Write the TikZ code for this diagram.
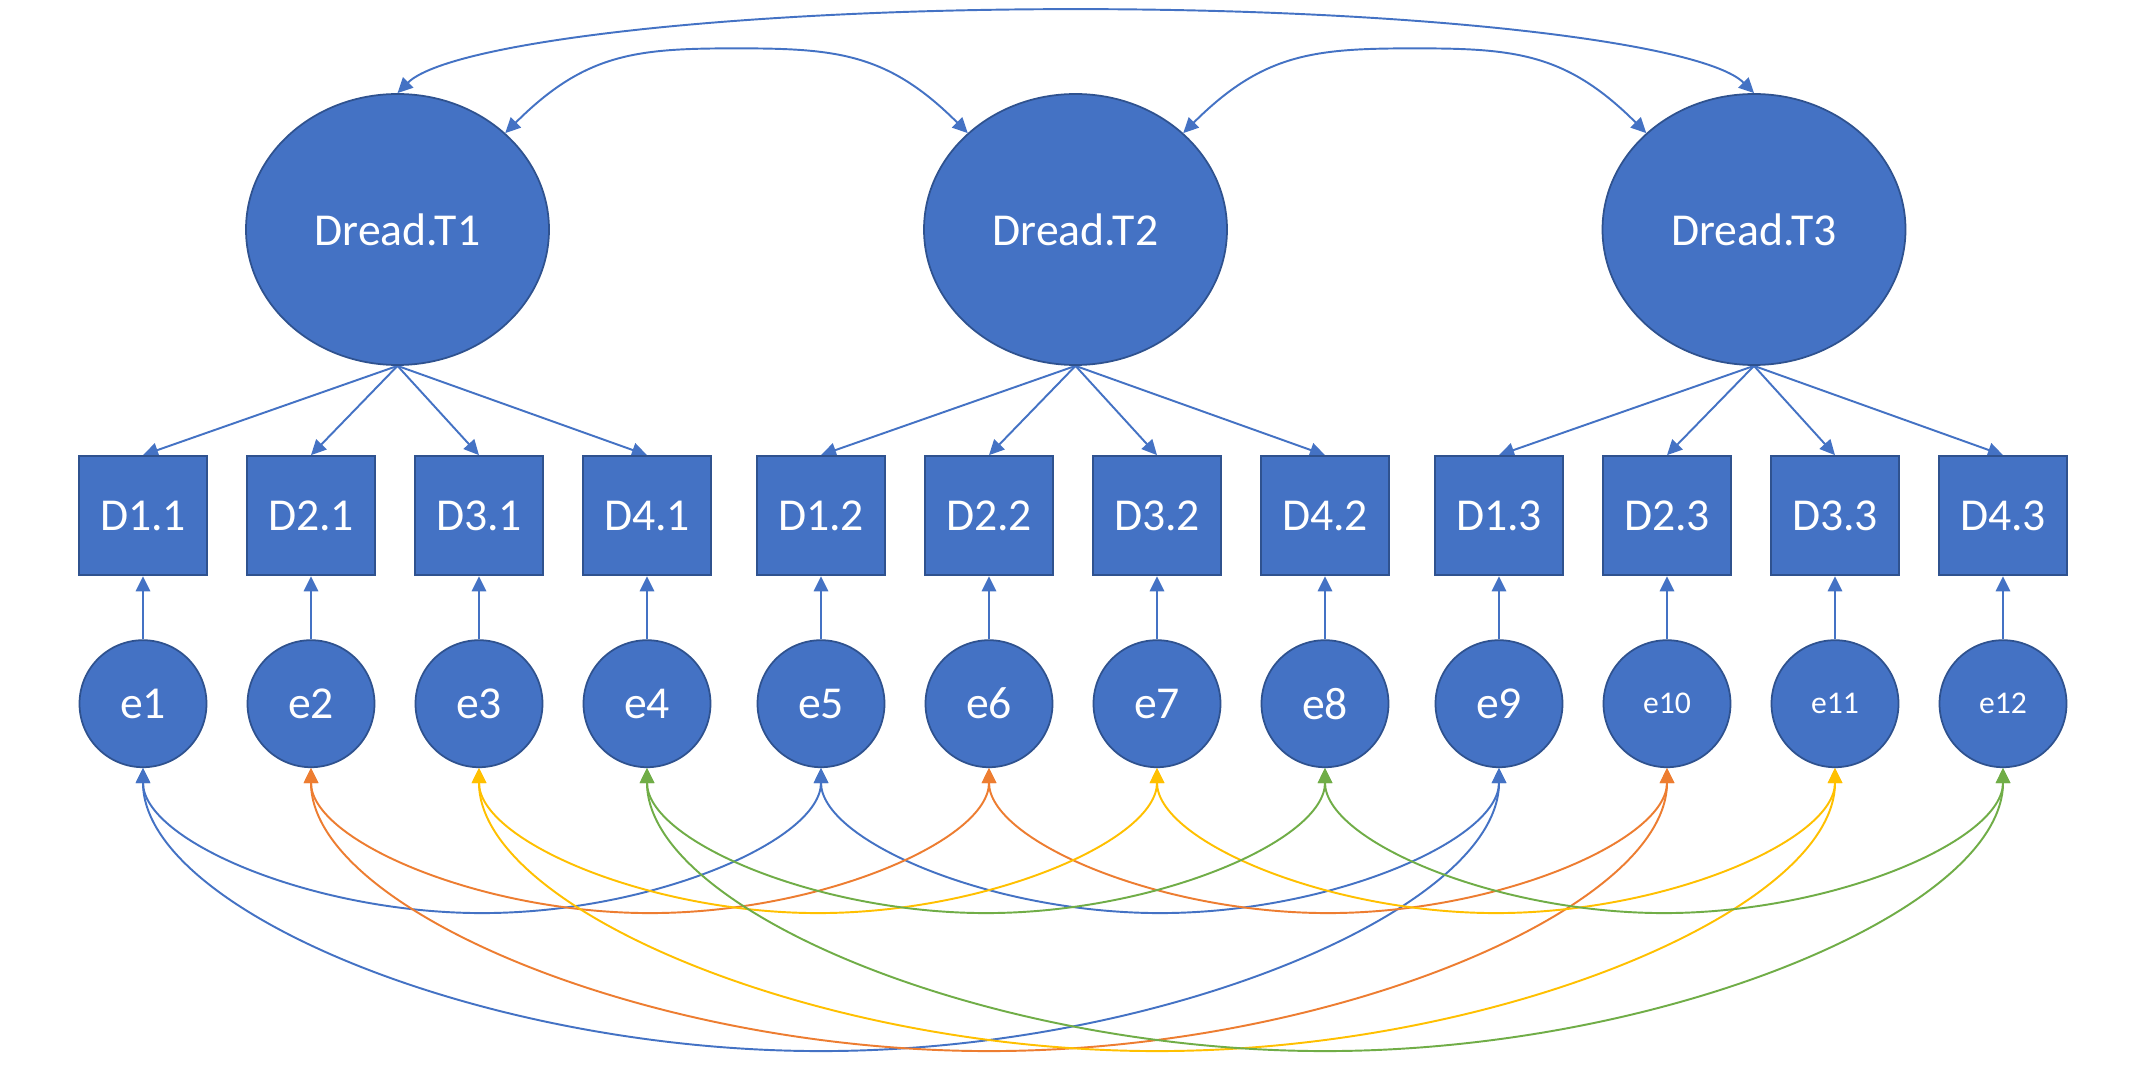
\documentclass[tikz,border=0pt]{standalone}
\usepackage{fontspec}
\setmainfont{Carlito}
\usetikzlibrary{arrows.meta,calc,shapes.geometric}
\definecolor{ofblue}{HTML}{4472C4}
\definecolor{ofdark}{HTML}{2F528F}
\definecolor{oforange}{HTML}{ED7D31}
\definecolor{ofgold}{HTML}{FFC000}
\definecolor{ofgreen}{HTML}{70AD47}
\pgfdeclarelayer{background}
\pgfsetlayers{background,main}
\begin{document}
\begin{tikzpicture}[
  latent/.style={ellipse, fill=ofblue, draw=ofdark, line width=0.5pt, minimum width=3.03cm, minimum height=2.71cm, inner sep=0pt, text=white, font=\fontsize{13}{15}\selectfont},
  obs/.style={rectangle, fill=ofblue, draw=ofdark, line width=0.6pt, minimum width=1.28cm, minimum height=1.19cm, inner sep=0pt, text=white, font=\fontsize{13}{15}\selectfont},
  err/.style={circle, fill=ofblue, draw=ofdark, line width=0.5pt, minimum size=1.27cm, inner sep=0pt, text=white, font=\fontsize{13}{15}\selectfont},
  errsmall/.style={err, font=\fontsize{9}{11}\selectfont},
  arr/.style={-{Triangle[length=4.3pt,width=4.1pt]}, ofblue, line width=0.55pt},
  cov/.style={{Triangle[length=4.3pt,width=4.1pt]}-{Triangle[length=4.3pt,width=4.1pt]}, line width=0.55pt},
]
\useasboundingbox (0,0) rectangle (21.3,-10.74);

% latent variables
\node[latent] (T1) at (3.975,-2.295) {Dread.T1};
\node[latent] (T2) at (10.755,-2.295) {Dread.T2};
\node[latent] (T3) at (17.54,-2.295) {Dread.T3};

% observed variables
\foreach \x/\lab [count=\i] in {1.43/D1.1,3.11/D2.1,4.79/D3.1,6.47/D4.1,8.21/D1.2,9.89/D2.2,11.57/D3.2,13.25/D4.2,14.99/D1.3,16.67/D2.3,18.35/D3.3,20.03/D4.3}
  \node[obs] (d\i) at (\x,-5.157) {\lab};

% error terms
\node[err] (e1) at (1.43,-7.037) {e1};
\node[err] (e2) at (3.11,-7.037) {e2};
\node[err] (e3) at (4.79,-7.037) {e3};
\node[err] (e4) at (6.47,-7.037) {e4};
\node[err] (e5) at (8.21,-7.037) {e5};
\node[err] (e6) at (9.89,-7.037) {e6};
\node[err] (e7) at (11.57,-7.037) {e7};
\node[err] (e8) at (13.25,-7.037) {e8};
\node[err] (e9) at (14.99,-7.037) {e9};
\node[errsmall] (e10) at (16.67,-7.037) {e10};
\node[errsmall] (e11) at (18.35,-7.037) {e11};
\node[errsmall] (e12) at (20.03,-7.037) {e12};

\begin{pgfonlayer}{background}
\fill[white] (0,0) rectangle (21.3,-10.74);
% loadings
\foreach \t/\a/\b/\c/\d in {T1/d1/d2/d3/d4,T2/d5/d6/d7/d8,T3/d9/d10/d11/d12}
  \foreach \k in {\a,\b,\c,\d}
    \draw[arr] (\t.south) -- (\k.north);
% error paths
\foreach \i in {1,...,12}
  \draw[arr] (e\i.north) -- (d\i.south);
% latent covariances
\draw[cov, ofblue] (T1.north east) .. controls +(0.8,0.8) and +(-1.0,0) ..
  ($(T1.north east)!0.5!(T2.north west)+(0,0.847)$) .. controls +(1.0,0) and +(-0.8,0.8) .. (T2.north west);
\draw[cov, ofblue] (T2.north east) .. controls +(0.8,0.8) and +(-1.0,0) ..
  ($(T2.north east)!0.5!(T3.north west)+(0,0.847)$) .. controls +(1.0,0) and +(-0.8,0.8) .. (T3.north west);
\draw[cov, ofblue] (T1.north) .. controls +(0.5,0.5) and +(-3.5,0) ..
  ($(T1.north)!0.5!(T3.north)+(0,0.84)$) .. controls +(3.5,0) and +(-0.5,0.5) .. (T3.north);
% error covariances
\foreach \a/\col in {1/ofblue,2/oforange,3/ofgold,4/ofgreen}{
  \pgfmathtruncatemacro\b{\a+4}
  \pgfmathtruncatemacro\c{\a+8}
  \draw[cov,\col] (e\a.south) .. controls +(0,-0.725) and +(-1.695,0) ..
    ($(e\a.south)!0.5!(e\b.south)+(0,-1.45)$) .. controls +(1.695,0) and +(0,-0.725) .. (e\b.south);
  \draw[cov,\col] (e\b.south) .. controls +(0,-0.725) and +(-1.695,0) ..
    ($(e\b.south)!0.5!(e\c.south)+(0,-1.45)$) .. controls +(1.695,0) and +(0,-0.725) .. (e\c.south);
  \draw[cov,\col] (e\a.south) .. controls +(0,-1.415) and +(-3.39,0) ..
    ($(e\a.south)!0.5!(e\c.south)+(0,-2.83)$) .. controls +(3.39,0) and +(0,-1.415) .. (e\c.south);
}
\end{pgfonlayer}
\end{tikzpicture}
\end{document}
